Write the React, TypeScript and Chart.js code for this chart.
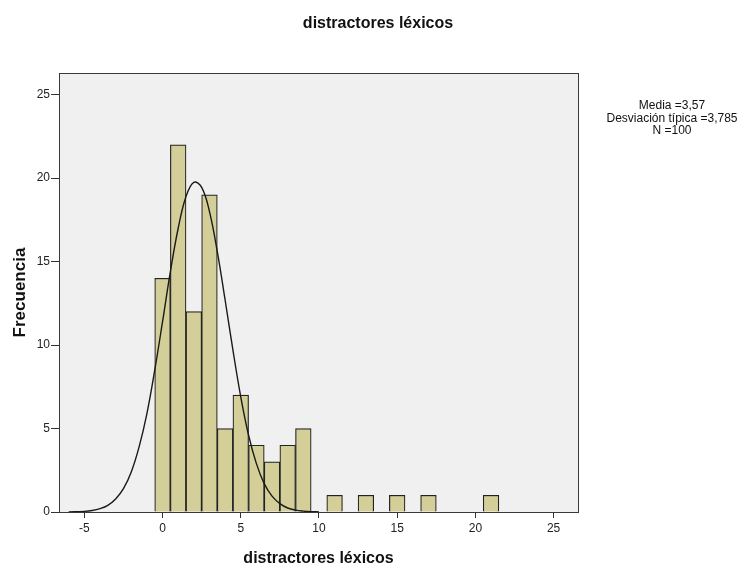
import React, { useEffect, useRef } from "react";
import { Chart, registerables } from "chart.js";

Chart.register(...registerables);

const binCenters = [0, 1, 2, 3, 4, 5, 6, 7, 8, 9, 11, 13, 15, 17, 21];
const binCounts = [14, 22, 12, 19, 5, 7, 4, 3, 4, 5, 1, 1, 1, 1, 1];

const curveX = [-6, -5, -4.5, -4, -3.5, -3, -2.5, -2, -1.5, -1, -0.5, 0, 0.5, 1, 1.5, 2, 2.5, 3, 3.5, 4, 4.5, 5, 5.5, 6, 6.5, 7, 7.5, 8, 8.5, 9, 9.5, 10];
const curveY = [0.01, 0.04, 0.09, 0.2, 0.4, 0.78, 1.4, 2.4, 3.9, 5.9, 8.5, 11.4, 14.4, 17.0, 18.9, 19.75, 19.45, 18.0, 15.6, 12.7, 9.7, 6.9, 4.6, 2.9, 1.7, 0.95, 0.5, 0.24, 0.11, 0.05, 0.02, 0.01];

const xTicks = [-5, 0, 5, 10, 15, 20, 25];
const yTicks = [0, 5, 10, 15, 20, 25];

const chartTitle = "distractores léxicos";
const xTitle = "distractores léxicos";
const yTitle = "Frecuencia";
const statsLines = ["Media =3,57", "Desviación típica =3,785", "N =100"];

const FONT = "'Liberation Sans', Arial, sans-serif";

export default function App() {
  const ref = useRef<HTMLCanvasElement | null>(null);

  useEffect(() => {
    document.body.style.margin = "0";
    const canvas = ref.current;
    if (!canvas) return;

    const decor = {
      id: "decor",
      beforeDraw(chart: any) {
        const { ctx, chartArea: a } = chart;
        ctx.save();
        ctx.fillStyle = "#ffffff";
        ctx.fillRect(0, 0, chart.width, chart.height);
        ctx.fillStyle = "#f0f0f0";
        ctx.fillRect(a.left, a.top, a.right - a.left, a.bottom - a.top);
        ctx.restore();
      },
      afterDraw(chart: any) {
        const { ctx, chartArea: a } = chart;
        ctx.save();
        ctx.strokeStyle = "#3a3a3a";
        ctx.lineWidth = 1;
        ctx.strokeRect(Math.round(a.left) + 0.5, Math.round(a.top) + 0.5, Math.round(a.right - a.left), Math.round(a.bottom - a.top));
        ctx.fillStyle = "#111";
        ctx.textAlign = "center";
        ctx.textBaseline = "middle";
        ctx.font = `bold 16px ${FONT}`;
        ctx.fillText(chartTitle, 378, 24);
        ctx.font = `12px ${FONT}`;
        statsLines.forEach((s, i) => ctx.fillText(s, 672, 106 + i * 12.5));
        ctx.restore();
      },
    };

    const chart = new Chart(canvas, {
      type: "bar",
      data: {
        datasets: [
          {
            type: "line",
            data: curveX.map((x, i) => ({ x, y: curveY[i] })),
            borderColor: "#1a1a1a",
            borderWidth: 1.4,
            pointRadius: 0,
            tension: 0.4,
            fill: false,
            order: 0,
          } as any,
          {
            type: "bar",
            data: binCenters.map((x, i) => ({ x, y: binCounts[i] })),
            backgroundColor: "#d4cf99",
            borderColor: "#222222",
            borderWidth: 1.2,
            barPercentage: 1,
            categoryPercentage: 1,
            order: 1,
          } as any,
        ],
      },
      options: {
        animation: false,
        responsive: false,
        layout: { padding: { left: 0, right: 169, top: 73, bottom: 0 } },
        plugins: { legend: { display: false }, tooltip: { enabled: false }, title: { display: false } },
        scales: {
          x: {
            type: "linear",
            min: -6.62,
            max: 26.56,
            offset: false,
            afterBuildTicks: (s: any) => { s.ticks = xTicks.map((v) => ({ value: v })); },
            afterFit: (s: any) => { s.height = 56; },
            grid: { drawOnChartArea: false, drawTicks: true, tickLength: 6, color: "#333", offset: false },
            border: { display: true, color: "#333" },
            ticks: { color: "#222", font: { family: FONT, size: 12 }, padding: 3, maxRotation: 0 },
            title: { display: true, text: xTitle, color: "#111", font: { family: FONT, size: 16, weight: "bold" }, padding: { top: 11, bottom: 0 } },
          },
          y: {
            type: "linear",
            min: 0,
            max: 26.3,
            afterBuildTicks: (s: any) => { s.ticks = yTicks.map((v) => ({ value: v })); },
            afterFit: (s: any) => { s.width = 59; },
            grid: { drawOnChartArea: false, drawTicks: true, tickLength: 8, color: "#333" },
            border: { display: true, color: "#333" },
            ticks: { color: "#222", font: { family: FONT, size: 12 }, padding: 1 },
            title: { display: true, text: yTitle, color: "#111", font: { family: FONT, size: 17, weight: "bold" }, padding: { top: 10, bottom: 4 } },
          },
        },
      } as any,
      plugins: [decor],
    });
    return () => chart.destroy();
  }, []);

  return (
    <div style={{ width: 747, height: 568 }}>
      <canvas ref={ref} width={747} height={568} style={{ display: "block" }} />
    </div>
  );
}
